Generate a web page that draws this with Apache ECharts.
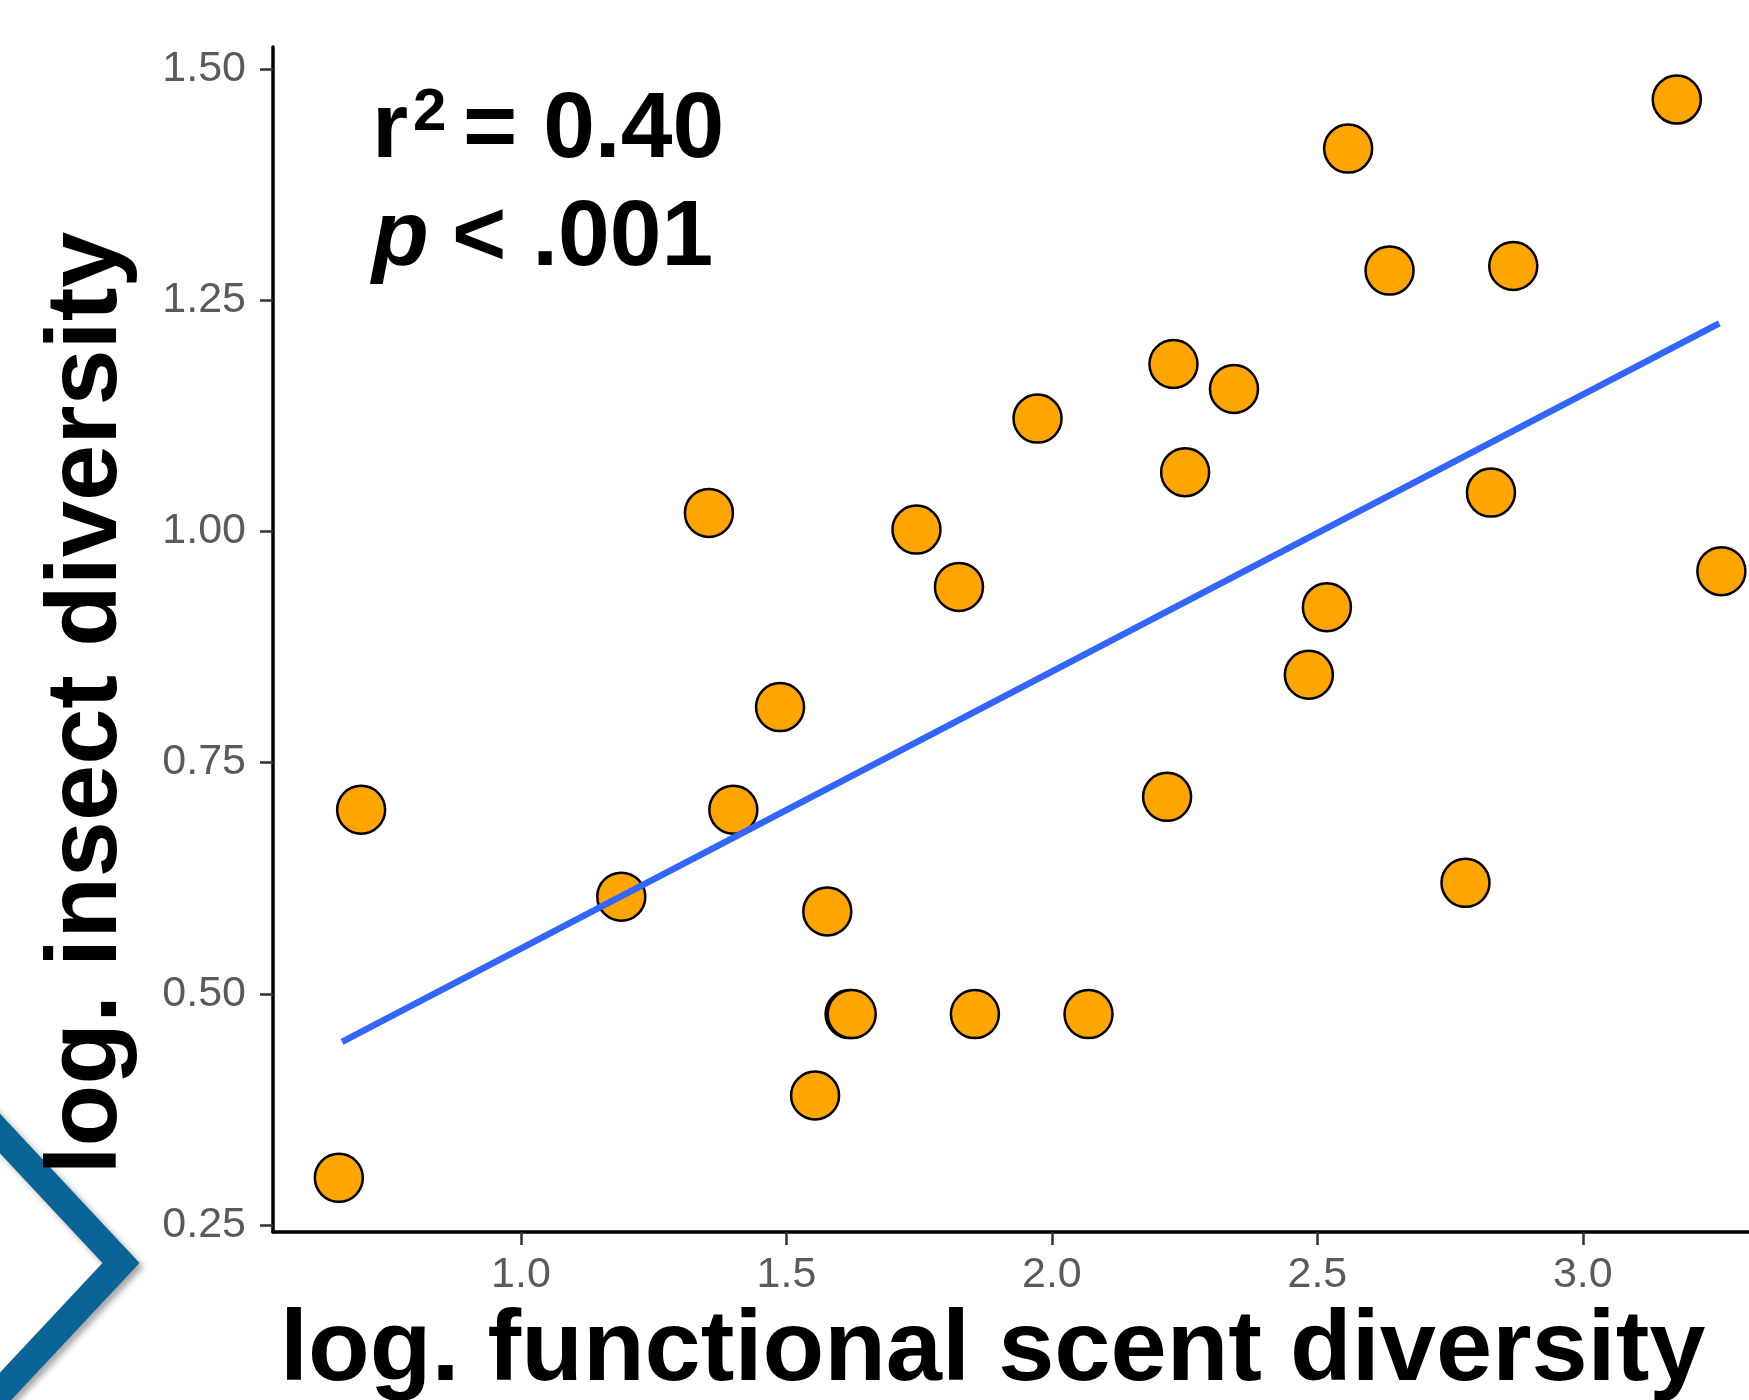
<!DOCTYPE html>
<html>
<head>
<meta charset="utf-8">
<title>scent diversity vs insect diversity</title>
<script src="https://cdn.jsdelivr.net/npm/echarts@6/dist/echarts.min.js"></script>
<style>
  html, body { margin: 0; padding: 0; background: #fff; }
  #chart { width: 1749px; height: 1400px; }
</style>
</head>
<body>
<div id="chart"></div>
<script>
// values
const scentX = [0.657, 0.699, 1.189, 1.354, 1.400, 1.488, 1.554, 1.577, 1.619, 1.623,
  1.745, 1.825, 1.855, 1.973, 2.069, 2.217, 2.229, 2.251, 2.343, 2.484,
  2.518, 2.558, 2.636, 2.779, 2.827, 2.869, 3.177, 3.261];
const insectY = [0.301, 0.699, 0.605, 1.020, 0.699, 0.810, 0.390, 0.589, 0.478, 0.478,
  1.002, 0.940, 0.478, 1.122, 0.478, 0.713, 1.181, 1.064, 1.154, 0.845,
  0.918, 1.414, 1.282, 0.620, 1.042, 1.287, 1.467, 0.957];
// fitted line, ends
const fitX = [0.663, 3.257];
const fitY = [0.448, 1.225];
const xTicks = [1.0, 1.5, 2.0, 2.5, 3.0];
const yTicks = [0.25, 0.50, 0.75, 1.00, 1.25, 1.50];

const points = scentX.map((x, i) => [x, insectY[i]]);
const fitLine = fitX.map((x, i) => [x, fitY[i]]);

const font = '"Liberation Sans", Arial, sans-serif';
const tickStyle = { color: '#5a5a5a', fontSize: 43, fontFamily: font };

const chart = echarts.init(document.getElementById('chart'));
chart.setOption({
  backgroundColor: '#fff',
  animation: false,
  grid: { left: 273, top: 47, right: 0, bottom: 168, outerBoundsMode: 'none' },
  xAxis: {
    type: 'value',
    min: 0.533,
    max: 3.313,
    splitLine: { show: false },
    axisLine: { show: true, lineStyle: { color: '#000', width: 3.5 } },
    axisTick: { show: true, length: 13, lineStyle: { color: '#333', width: 2.5 }, customValues: xTicks },
    axisLabel: Object.assign({ margin: 22, customValues: xTicks, formatter: v => v.toFixed(1) }, tickStyle)
  },
  yAxis: {
    type: 'value',
    min: 0.2424,
    max: 1.5238,
    splitLine: { show: false },
    axisLine: { show: true, lineStyle: { color: '#000', width: 3.5 } },
    axisTick: { show: true, length: 13, lineStyle: { color: '#333', width: 2.5 }, customValues: yTicks },
    axisLabel: Object.assign({ margin: 27, customValues: yTicks, formatter: v => v.toFixed(2) }, tickStyle)
  },
  series: [
    {
      type: 'scatter',
      data: points,
      symbolSize: 48,
      itemStyle: { color: '#FFA500', borderColor: '#000', borderWidth: 2.5, opacity: 1 },
      z: 2
    },
    {
      type: 'line',
      data: fitLine,
      symbol: 'none',
      lineStyle: { color: '#3366FF', width: 6.5 },
      z: 3
    }
  ],
  graphic: [
    // slide chevron, bottom left
    {
      type: 'polyline',
      shape: { points: [[-20, 1112], [121, 1263], [-12, 1405]] },
      style: {
        stroke: '#0b6496', lineWidth: 27, lineJoin: 'miter', fill: null,
        shadowBlur: 6, shadowOffsetX: 4, shadowOffsetY: 4, shadowColor: 'rgba(0,0,0,0.35)'
      },
      z: 1
    },
    {
      type: 'text', x: 88, y: 703, rotation: Math.PI / 2, z: 10,
      style: { text: 'log. insect diversity', font: 'bold 101px ' + font, fill: '#000', align: 'center', verticalAlign: 'middle' }
    },
    {
      type: 'text', x: 280, y: 1352, z: 10,
      style: { text: 'log. functional scent diversity', font: 'bold 101px ' + font, fill: '#000', align: 'left', verticalAlign: 'middle' }
    },
    {
      type: 'text', x: 372, y: 131, z: 10,
      style: { text: 'r', font: 'bold 93px ' + font, fill: '#000', align: 'left', verticalAlign: 'middle' }
    },
    {
      type: 'text', x: 413, y: 113, z: 10,
      style: { text: '2', font: 'bold 60px ' + font, fill: '#000', align: 'left', verticalAlign: 'middle' }
    },
    {
      type: 'text', x: 463, y: 131, z: 10,
      style: { text: '= 0.40', font: 'bold 93px ' + font, fill: '#000', align: 'left', verticalAlign: 'middle' }
    },
    {
      type: 'text', x: 372, y: 239, z: 10,
      style: { text: 'p', font: 'italic bold 93px ' + font, fill: '#000', align: 'left', verticalAlign: 'middle' }
    },
    {
      type: 'text', x: 452, y: 239, z: 10,
      style: { text: '< .001', font: 'bold 93px ' + font, fill: '#000', align: 'left', verticalAlign: 'middle' }
    }
  ]
});
</script>
</body>
</html>
